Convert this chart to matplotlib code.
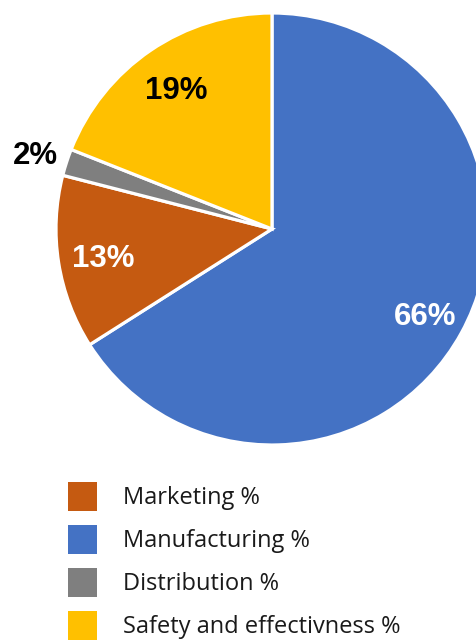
import numpy as np
import matplotlib
matplotlib.use("Agg")
import matplotlib.pyplot as plt
from matplotlib.patches import Patch

# slice data, clockwise from 12 o'clock
labels = ["Manufacturing %", "Marketing %", "Distribution %", "Safety and effectivness %"]
values = [66, 13, 2, 19]
colors = ["#4472C4", "#C55A11", "#7F7F7F", "#FFC000"]
label_colors = ["white", "white", "black", "black"]
label_dist = [0.81, 0.79, 1.15, 0.79]

# legend order as in the original
legend_order = [1, 0, 2, 3]

W, H = 476, 641
fig = plt.figure(figsize=(W / 100, H / 100), dpi=100)
ax = fig.add_axes([0, 0, 1, 1])

cx, cy, r = 272, H - 229, 216
wedges, _ = ax.pie(values, colors=colors, startangle=90, counterclock=False,
                   center=(cx, cy), radius=r,
                   wedgeprops=dict(edgecolor="white", linewidth=2.3))

total = sum(values)
for w, v, c, d in zip(wedges, values, label_colors, label_dist):
    ang = np.deg2rad((w.theta1 + w.theta2) / 2)
    x = cx + d * r * np.cos(ang)
    y = cy + d * r * np.sin(ang)
    ax.text(x, y, f"{round(100 * v / total)}%", ha="center", va="center_baseline",
            color=c, fontsize=22.5, fontweight="bold", family="Liberation Sans")

ax.set_xlim(0, W)
ax.set_ylim(0, H)
ax.set_aspect("equal")
ax.axis("off")

handles = [Patch(facecolor=colors[i], edgecolor="none") for i in legend_order]
fig.legend(handles, [labels[i] for i in legend_order],
           loc="upper left", bbox_to_anchor=(68 / W, 1 - 482 / H),
           frameon=False, borderpad=0, borderaxespad=0,
           handlelength=1.23, handleheight=1.51, handletextpad=1.1,
           labelspacing=0.59, prop=dict(family="Open Sans", size=17),
           labelcolor="#1a1a1a")

fig.savefig("out.png", dpi=100)
